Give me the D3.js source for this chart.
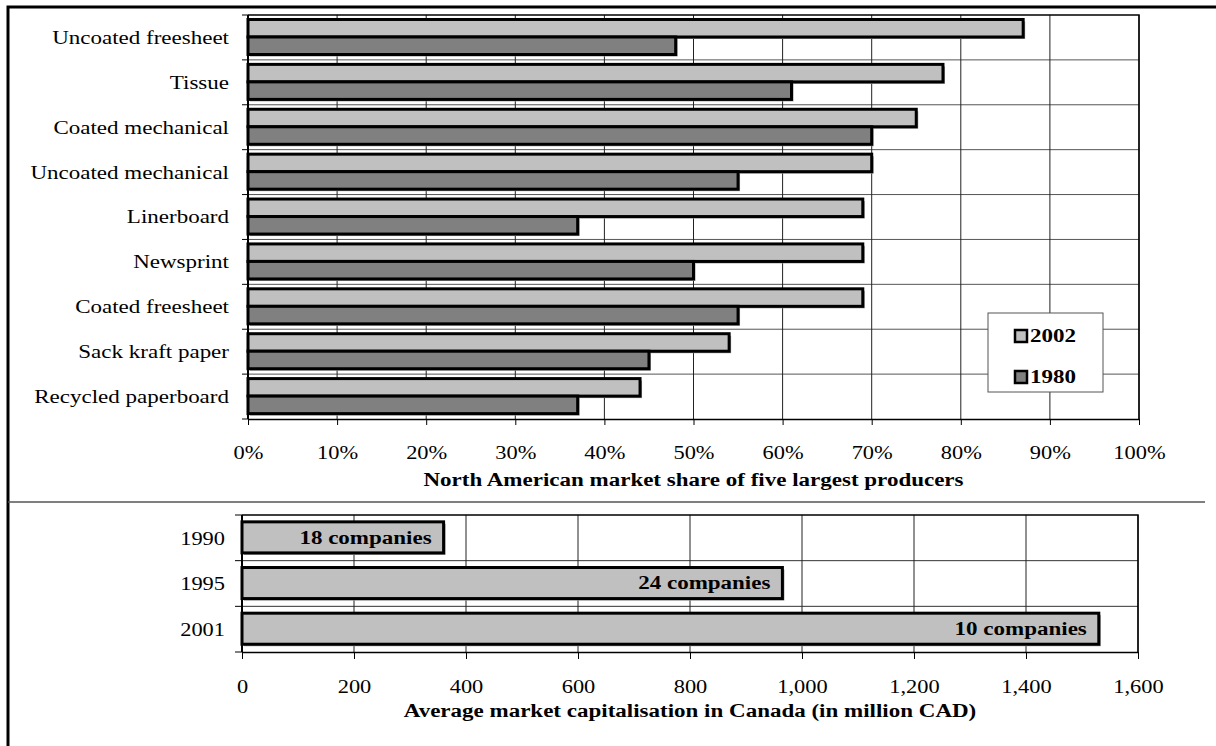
<!DOCTYPE html>
<html>
<head>
<meta charset="utf-8">
<script src="https://cdn.jsdelivr.net/npm/d3@7"></script>
<style>
  html, body { margin: 0; padding: 0; background: #fff; }
  svg { display: block; }
  text { font-family: "Liberation Serif", "Times New Roman", serif; fill: #000; }
</style>
</head>
<body>
<script>
// Paper grades and the market share held by the five largest producers
const categories = ["Uncoated freesheet", "Tissue", "Coated mechanical", "Uncoated mechanical",
  "Linerboard", "Newsprint", "Coated freesheet", "Sack kraft paper", "Recycled paperboard"];
const seriesNames = ["2002", "1980"];
const share2002 = [87, 78, 75, 70, 69, 69, 69, 54, 44];
const share1980 = [48, 61, 70, 55, 37, 50, 55, 45, 37];
const shareTicks = [0, 10, 20, 30, 40, 50, 60, 70, 80, 90, 100];

// Average market capitalisation of Canadian producers
const capYears = ["1990", "1995", "2001"];
const capValues = [360, 965, 1530];
const capCompanies = [18, 24, 10];
const capTicks = [0, 200, 400, 600, 800, 1000, 1200, 1400, 1600];

const W = 1216, H = 746;
const FONT = 19.5;      // category labels, titles, bar labels
const TICK_FONT = 19;   // numeric tick labels
const SX = 1.18;        // wide lettering: horizontal stretch of all text
const colors = { "2002": "#c0c0c0", "1980": "#808080" };

// place a text at (x, y) with the horizontal stretch applied around its anchor
const at = (x, y) => `translate(${x},${y}) scale(${SX},1)`;

const svg = d3.select("body").append("svg").attr("width", W).attr("height", H);

// outer frame (runs off the right and bottom edges)
svg.append("path").attr("d", `M8,${H + 5} L8,7 L${W + 5},7`)
  .attr("fill", "none").attr("stroke", "#000").attr("stroke-width", 3);

// separator between the two panels
svg.append("line").attr("x1", 8).attr("x2", 1205).attr("y1", 502).attr("y2", 502)
  .attr("stroke", "#555").attr("stroke-width", 1.5);

// ---------- top panel ----------
const p1 = { l: 248, r: 1139, t: 15, b: 419 };
const x1 = d3.scaleLinear().domain([0, 100]).range([p1.l, p1.r]);
const y1 = d3.scaleBand().domain(categories).range([p1.t, p1.b]);
const bw1 = y1.bandwidth();
const yInner = d3.scaleBand().domain(seriesNames).range([bw1 * 0.1, bw1 * 0.88]);

const g1 = svg.append("g");
// horizontal grid at band boundaries
g1.selectAll("line.hg").data(categories.slice(1)).join("line")
  .attr("x1", p1.l).attr("x2", p1.r)
  .attr("y1", d => y1(d)).attr("y2", d => y1(d))
  .attr("stroke", "#555").attr("stroke-width", 1);
// vertical grid
g1.selectAll("line.vg").data(shareTicks.slice(1)).join("line")
  .attr("x1", d => x1(d)).attr("x2", d => x1(d))
  .attr("y1", p1.t).attr("y2", p1.b)
  .attr("stroke", "#222").attr("stroke-width", 1);
// plot border top / right
g1.append("path").attr("d", `M${p1.l},${p1.t} L${p1.r},${p1.t} L${p1.r},${p1.b}`)
  .attr("fill", "none").attr("stroke", "#000").attr("stroke-width", 1.5);

const rows1 = categories.map((c, i) => ({ c, vals: [
  { s: "2002", v: share2002[i] }, { s: "1980", v: share1980[i] }] }));

const rowG = g1.selectAll("g.row").data(rows1).join("g")
  .attr("transform", d => `translate(0,${y1(d.c)})`);
// shadows
rowG.selectAll("rect.sh").data(d => d.vals).join("rect")
  .attr("x", x1(0) + 2).attr("y", d => yInner(d.s) + 2)
  .attr("width", d => x1(d.v) - x1(0)).attr("height", yInner.bandwidth())
  .attr("fill", "#9a9a9a");
rowG.selectAll("rect.bar").data(d => d.vals).join("rect")
  .attr("x", x1(0)).attr("y", d => yInner(d.s))
  .attr("width", d => x1(d.v) - x1(0)).attr("height", yInner.bandwidth())
  .attr("fill", d => colors[d.s]).attr("stroke", "#000").attr("stroke-width", 3);

// x axis
const ax1 = g1.append("g").attr("transform", `translate(0,${p1.b})`)
  .call(d3.axisBottom(x1).tickValues(shareTicks).tickFormat(d => d + "%").tickSize(6).tickSizeOuter(0).tickPadding(21));
ax1.select(".domain").attr("stroke", "#000").attr("stroke-width", 1.5);
ax1.selectAll("text").attr("font-size", TICK_FONT).attr("font-family", null)
  .attr("transform", `scale(${SX},1)`);
ax1.selectAll(".tick line").attr("stroke", "#000");

// y axis: line, boundary ticks, category labels
g1.append("line").attr("x1", p1.l).attr("x2", p1.l).attr("y1", p1.t).attr("y2", p1.b)
  .attr("stroke", "#000").attr("stroke-width", 2);
g1.selectAll("line.yt").data(categories.concat(["__end"])).join("line")
  .attr("x1", p1.l - 6).attr("x2", p1.l)
  .attr("y1", (d, i) => p1.t + i * bw1).attr("y2", (d, i) => p1.t + i * bw1)
  .attr("stroke", "#000");
g1.selectAll("text.cat").data(categories).join("text")
  .attr("transform", d => at(p1.l - 19, y1(d) + bw1 / 2))
  .attr("text-anchor", "end").attr("dominant-baseline", "central")
  .attr("font-size", FONT).text(d => d);

g1.append("text").attr("transform", at((p1.l + p1.r) / 2, 486))
  .attr("text-anchor", "middle").attr("font-size", FONT).attr("font-weight", "bold")
  .text("North American market share of five largest producers");

// legend
const lg = svg.append("g").attr("transform", "translate(988,313)");
lg.append("rect").attr("width", 115).attr("height", 79)
  .attr("fill", "#fff").attr("stroke", "#555").attr("stroke-width", 1);
const li = lg.selectAll("g").data(seriesNames).join("g")
  .attr("transform", (d, i) => `translate(0,${23 + i * 41})`);
li.append("rect").attr("x", 27).attr("y", -6).attr("width", 12).attr("height", 12)
  .attr("fill", d => colors[d]).attr("stroke", "#000").attr("stroke-width", 2.5);
li.append("text").attr("transform", at(42, 0)).attr("dominant-baseline", "central")
  .attr("font-size", FONT).attr("font-weight", "bold").text(d => d);

// ---------- bottom panel ----------
const p2 = { l: 242, r: 1138, t: 515, b: 652 };
const x2 = d3.scaleLinear().domain([0, 1600]).range([p2.l, p2.r]);
const y2 = d3.scaleBand().domain(capYears).range([p2.t, p2.b]);
const bw2 = y2.bandwidth();

const g2 = svg.append("g");
g2.selectAll("line.hg").data(capYears.slice(1)).join("line")
  .attr("x1", p2.l).attr("x2", p2.r)
  .attr("y1", d => y2(d)).attr("y2", d => y2(d))
  .attr("stroke", "#333").attr("stroke-width", 1);
g2.selectAll("line.vg").data(capTicks.slice(1)).join("line")
  .attr("x1", d => x2(d)).attr("x2", d => x2(d))
  .attr("y1", p2.t).attr("y2", p2.b)
  .attr("stroke", "#222").attr("stroke-width", 1);
g2.append("path").attr("d", `M${p2.l},${p2.t} L${p2.r},${p2.t} L${p2.r},${p2.b}`)
  .attr("fill", "none").attr("stroke", "#000").attr("stroke-width", 1.5);

const rows2 = capYears.map((y, i) => ({ y, v: capValues[i], n: capCompanies[i] }));
g2.selectAll("rect.sh").data(rows2).join("rect")
  .attr("x", x2(0) + 2).attr("y", d => y2(d.y) + bw2 * 0.15 + 2)
  .attr("width", d => x2(d.v) - x2(0)).attr("height", bw2 * 0.68)
  .attr("fill", "#9a9a9a");
g2.selectAll("rect.bar").data(rows2).join("rect")
  .attr("x", x2(0)).attr("y", d => y2(d.y) + bw2 * 0.15)
  .attr("width", d => x2(d.v) - x2(0)).attr("height", bw2 * 0.68)
  .attr("fill", "#c0c0c0").attr("stroke", "#000").attr("stroke-width", 3);
g2.selectAll("text.lab").data(rows2).join("text")
  .attr("transform", d => at(x2(d.v) - 12, y2(d.y) + bw2 * 0.49))
  .attr("text-anchor", "end").attr("dominant-baseline", "central")
  .attr("font-size", FONT).attr("font-weight", "bold")
  .text(d => d.n + " companies");

const ax2 = g2.append("g").attr("transform", `translate(0,${p2.b})`)
  .call(d3.axisBottom(x2).tickValues(capTicks).tickFormat(d3.format(",")).tickSize(7).tickSizeOuter(0).tickPadding(21));
ax2.select(".domain").attr("stroke", "#000").attr("stroke-width", 1.5);
ax2.selectAll("text").attr("font-size", TICK_FONT).attr("font-family", null)
  .attr("transform", `scale(${SX},1)`);
ax2.selectAll(".tick line").attr("stroke", "#000");

g2.append("line").attr("x1", p2.l).attr("x2", p2.l).attr("y1", p2.t).attr("y2", p2.b)
  .attr("stroke", "#000").attr("stroke-width", 2);
g2.selectAll("line.yt").data(capYears.concat(["__end"])).join("line")
  .attr("x1", p2.l - 7).attr("x2", p2.l)
  .attr("y1", (d, i) => p2.t + i * bw2).attr("y2", (d, i) => p2.t + i * bw2)
  .attr("stroke", "#000");
g2.selectAll("text.yr").data(capYears).join("text")
  .attr("transform", d => at(p2.l - 17, y2(d) + bw2 / 2))
  .attr("text-anchor", "end").attr("dominant-baseline", "central")
  .attr("font-size", TICK_FONT).text(d => d);

g2.append("text").attr("transform", at((p2.l + p2.r) / 2, 717))
  .attr("text-anchor", "middle").attr("font-size", FONT).attr("font-weight", "bold")
  .text("Average market capitalisation in Canada (in million CAD)");
</script>
</body>
</html>
